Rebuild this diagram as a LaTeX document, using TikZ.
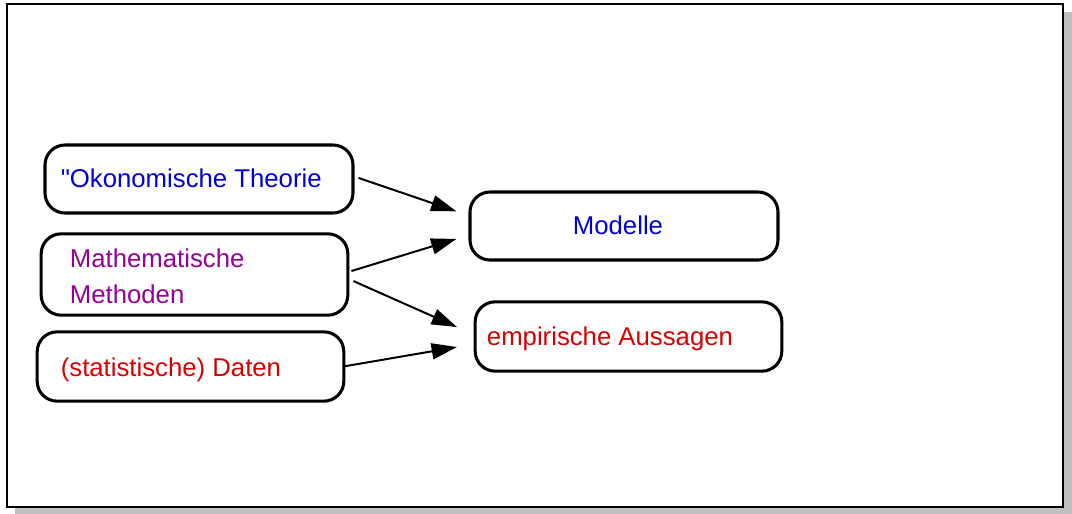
\documentclass[tikz,border=0pt]{standalone}
\usepackage{fontspec}
\newfontfamily\labelfont{Liberation Sans}
\usetikzlibrary{arrows.meta}
\definecolor{txtblue}{RGB}{0,0,215}
\definecolor{txtpurple}{RGB}{150,0,150}
\definecolor{txtred}{RGB}{215,0,0}
\definecolor{shadowgray}{RGB}{192,192,192}
\tikzset{
  px/.style={x=0.75pt,y=-0.75pt},
  box/.style={draw=black,line width=2.3pt,rounded corners=15pt,fill=white,
    inner sep=0pt},
  lbl/.style={anchor=base west,inner sep=0pt,font=\labelfont\fontsize{19.3pt}{27pt}\selectfont},
  link/.style={line width=1.5pt,-{Triangle[length=19pt,width=12pt]}},
}
\begin{document}
\begin{tikzpicture}[px]
\useasboundingbox (0,0) rectangle (1072,514);
% frame with drop shadow
\fill[shadowgray] (15,12) rectangle (1072,514);
\draw[line width=1.6pt,fill=white] (7,4) rectangle (1063,507);

% source boxes
\node[box,minimum width=231pt,minimum height=51pt] (theo) at (199,179) {};
\node[box,minimum width=230pt,minimum height=61pt] (math) at (194.5,274.5) {};
\node[box,minimum width=230pt,minimum height=52pt] (data) at (190.5,366.5) {};
% target boxes
\node[box,minimum width=231pt,minimum height=51pt] (mod) at (624,226) {};
\node[box,minimum width=230pt,minimum height=52pt] (emp) at (628.5,336.5) {};

% labels
\node[lbl,text=txtblue] (theoT) at ([xshift=12.8pt,yshift=-6.3pt]theo.west) {"Okonomische Theorie};
\node[lbl,text=txtpurple] (mathT1) at ([xshift=22.5pt,yshift=5.4pt]math.west) {Mathematische};
\node[lbl,text=txtpurple] (mathT2) at ([xshift=22.5pt,yshift=-21.6pt]math.west) {Methoden};
\node[lbl,text=txtred] (dataT) at ([xshift=18.7pt,yshift=-7.2pt]data.west) {(statistische) Daten};
\node[lbl,anchor=base,text=txtblue] (modT) at ([xshift=-4.5pt,yshift=-6.3pt]mod.center) {Modelle};
\node[lbl,text=txtred] (empT) at ([xshift=9.8pt,yshift=-6.5pt]emp.west) {empirische Aussagen};

% connectors
\draw[link] ([xshift=3pt,yshift=0.8pt]theo.east) -- ([xshift=-9pt,yshift=11pt]mod.west);
\draw[link] ([xshift=1.5pt,yshift=2.6pt]math.east) -- ([xshift=-9pt,yshift=-9.7pt]mod.west);
\draw[link] ([xshift=3pt,yshift=-4.9pt]math.east) -- ([xshift=-12.5pt,yshift=7.1pt]emp.west);
\draw[link] ([xshift=-1.5pt]data.east) -- ([xshift=-12.5pt,yshift=-7.9pt]emp.west);
\end{tikzpicture}
\end{document}
